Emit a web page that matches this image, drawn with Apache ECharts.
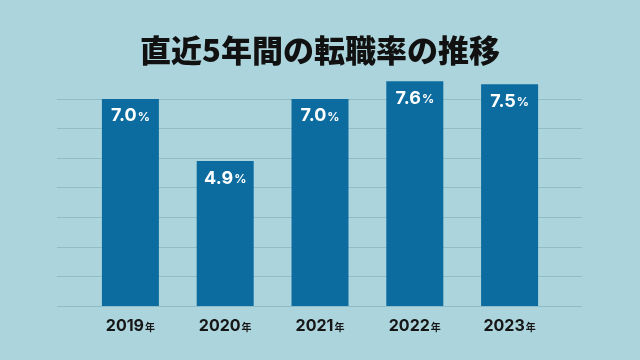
<!DOCTYPE html>
<html><head><meta charset="utf-8">
<script src="https://cdn.jsdelivr.net/npm/echarts@6/dist/echarts.min.js"></script>
<style>html,body{margin:0;padding:0;background:#acd4dc;}#c{width:640px;height:360px;}</style>
</head><body><div id="c"></div>
<script>
const title = '直近5年間の転職率の推移';
const years = ['2019', '2020', '2021', '2022', '2023'];
const rates = [7.0, 4.9, 7.0, 7.6, 7.5];
const yTicks = [0, 1, 2, 3, 4, 5, 6, 7];

const chart = echarts.init(document.getElementById('c'));
const numFont = 'Inter, Open Sans, Noto Sans CJK JP, sans-serif';
chart.setOption({
  backgroundColor: '#acd4dc',
  title: {
    text: title, left: 'center', top: 30,
    textStyle: { fontFamily: 'Noto Sans CJK JP', fontWeight: 900, fontSize: 31, color: '#111' }
  },
  grid: [
    { left: 57, right: 58, top: 99, bottom: 54 },
    { left: 83, width: 474, top: 99, bottom: 54 }
  ],
  xAxis: [
    { gridIndex: 0, type: 'category', data: years, show: false },
    { gridIndex: 1, type: 'category', data: years,
      axisLine: { show: false }, axisTick: { show: false },
      axisLabel: {
        margin: 12, interval: 0,
        formatter: v => '{n|' + v + '}{u|年}',
        rich: {
          n: { fontFamily: numFont, fontWeight: 'bold', fontSize: 16, color: '#161616' },
          u: { fontFamily: 'Noto Sans CJK JP', fontWeight: 'bold', fontSize: 10, color: '#161616', padding: [2, 0, 0, 1] }
        }
      } }
  ],
  yAxis: [
    { gridIndex: 0, type: 'value', min: yTicks[0], max: yTicks[yTicks.length - 1], interval: 1,
      axisLabel: { show: false }, axisLine: { show: false }, axisTick: { show: false },
      splitLine: { lineStyle: { color: '#8fbcc6', width: 1 } } },
    { gridIndex: 1, type: 'value', min: yTicks[0], max: yTicks[yTicks.length - 1], interval: 1, show: false,
      splitLine: { show: false } }
  ],
  series: [{
    type: 'bar', xAxisIndex: 1, yAxisIndex: 1, data: rates, barWidth: 57, clip: false,
    itemStyle: { color: '#0c6c9f' },
    label: {
      show: true, position: 'insideTop', distance: 8,
      formatter: p => '{n|' + p.value.toFixed(1) + '}{u|%}',
      rich: {
        n: { fontFamily: numFont, fontWeight: 'bold', fontSize: 18, color: '#ffffff' },
        u: { fontFamily: numFont, fontWeight: 'bold', fontSize: 12, color: '#ffffff', padding: [3, 0, 0, 1] }
      }
    }
  }]
});
</script></body></html>
